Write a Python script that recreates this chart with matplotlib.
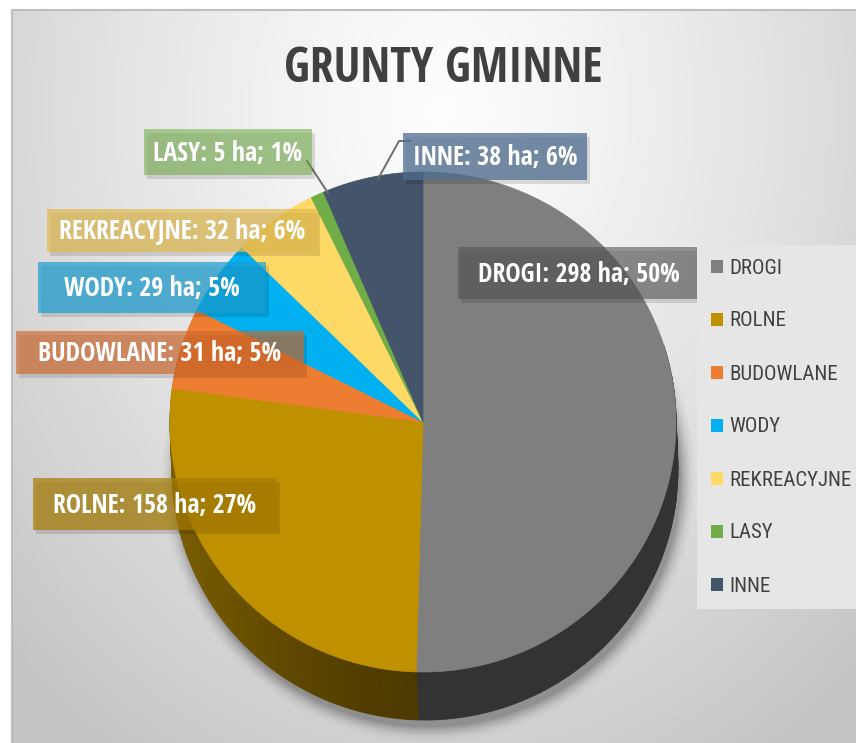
import numpy as np
import matplotlib
matplotlib.use("Agg")
import matplotlib.pyplot as plt
from matplotlib.patches import Polygon, Patch, Rectangle
from matplotlib import font_manager

# data
categories = ["DROGI", "ROLNE", "BUDOWLANE", "WODY", "REKREACYJNE", "LASY", "INNE"]
hectares = [298, 158, 31, 29, 32, 5, 38]
percent_labels = ["50%", "27%", "5%", "5%", "6%", "1%", "6%"]
colors = ["#7F7F7F", "#BF9000", "#ED7D31", "#00B0F0", "#FFD966", "#70AD47", "#44546A"]
box_colors = ["#555555", "#A67C00", "#D0672A", "#1A9FD2", "#E0BA50", "#6FAE45", "#4F6E91"]
box_alpha = [0.6, 0.7, 0.65, 0.7, 0.7, 0.55, 0.75]

# label centres, box padding and height in pixel space (layout only)
label_pos = [(579, 273), (155, 504), (160, 352), (152, 287), (182, 230), (228, 152), (495, 156)]
label_hpad = [20, 20, 22, 26, 12, 9, 10]
label_boxh = [52, 52, 43, 51, 43, 46, 47]

installed = {f.name for f in font_manager.fontManager.ttflist}


def pick(cands, default):
    for c in cands:
        if c in installed:
            return [c, "DejaVu Sans"]
    return [default, "DejaVu Sans"]


FONT = pick(["Open Sans Condensed", "Roboto Condensed", "Liberation Sans Narrow"], "Roboto")
LEG_FONT = pick(["Roboto Condensed", "Asap Condensed", "Liberation Sans Narrow"], "Roboto")

W, H = 856, 743
CX, CY = 423, 422
RX, RY = 253, 250
DX, DY = 2, 48

fig = plt.figure(figsize=(W / 100, H / 100), dpi=100)
ax = fig.add_axes([0, 0, 1, 1])
ax.set_xlim(0, W)
ax.set_ylim(H, 0)
ax.axis("off")
renderer = fig.canvas.get_renderer()


def measure(text, size, weight, family):
    t = ax.text(0, 0, text, fontsize=size, fontweight=weight, family=family)
    bb = t.get_window_extent(renderer=renderer)
    t.remove()
    return bb.width, bb.height


def fit_size(text, target_px, weight, family, base=20):
    return base * target_px / measure(text, base, weight, family)[0]


# chart area background: light radial gradient
gx, gy = np.meshgrid(np.arange(12, W + 1), np.arange(10, H + 1))
d = np.sqrt(((gx - 440) / 560) ** 2 + ((gy - 110) / 700) ** 2)
shade = 0.995 - 0.20 * np.clip(d, 0, 1.1) ** 1.2
bg = np.dstack([shade, shade, shade])
ax.imshow(bg, extent=[12, W + 1, H + 1, 10], zorder=0, interpolation="bilinear")
ax.plot([12, 12, W], [H, 10, 10], color="#BEBEBE", lw=1.5, zorder=1)

# soft shadow under the pie
sx, sy = np.meshgrid(np.arange(120, 740), np.arange(150, H))
sd = np.sqrt(((sx - CX - DX - 3) / (RX + 4)) ** 2 + ((sy - CY - DY - 7) / (RY + 4)) ** 2)
sa = 0.32 * np.clip((1.05 - sd) / 0.07, 0, 1) ** 2
shadow = np.zeros(sa.shape + (4,))
shadow[..., 3] = sa
ax.imshow(shadow, extent=[120, 740, H, 150], zorder=1, interpolation="bilinear")
ax.set_xlim(0, W)
ax.set_ylim(H, 0)


def ell(phi, dx=0.0, dy=0.0):
    return CX + dx + RX * np.sin(phi), CY + dy - RY * np.cos(phi)


total = sum(hectares)
bounds = np.concatenate([[0], np.cumsum(hectares)]) / total * 2 * np.pi

# side of the 3D pie, shaded by angle
for i, c in enumerate(colors):
    rgb = np.array(matplotlib.colors.to_rgb(c))
    a0, a1 = bounds[i], bounds[i + 1]
    n = max(2, int(np.degrees(a1 - a0) / 1.5))
    edges = np.linspace(a0, a1, n + 1)
    for e0, e1 in zip(edges[:-1], edges[1:]):
        mid = 0.5 * (e0 + e1)
        if np.cos(mid) > 0.3:
            continue
        f = 0.40 + 0.25 * max(0.0, -np.sin(mid)) ** 1.5
        t = np.linspace(e0, e1, 4)
        xt, yt = ell(t)
        xb, yb = ell(t[::-1], DX, DY)
        pts = np.column_stack([np.r_[xt, xb], np.r_[yt, yb]])
        ax.add_patch(Polygon(pts, closed=True, facecolor=rgb * f,
                             edgecolor=rgb * f, lw=0.6, zorder=2))

# top faces
for i, c in enumerate(colors):
    t = np.linspace(bounds[i], bounds[i + 1], 200)
    x, y = ell(t)
    pts = np.column_stack([np.r_[CX, x], np.r_[CY, y]])
    ax.add_patch(Polygon(pts, closed=True, facecolor=c, edgecolor=c, lw=0.5, zorder=3))

# leader lines for the two small top slices
ax.plot([307, 328], [161, 193], color="#6E6E6E", lw=1.4, zorder=4)
ax.plot([410, 399, 378], [141, 141, 179], color="#6E6E6E", lw=1.4, zorder=4)

# data labels with boxes sized from the text
label_size = fit_size("BUDOWLANE: 31 ha; 5%", 244, "bold", FONT)
cap_px = 0.714 * label_size * 100 / 72
for i, name in enumerate(categories):
    txt = f"{name}: {hectares[i]} ha; {percent_labels[i]}"
    x, y = label_pos[i]
    tw, _ = measure(txt, label_size, "bold", FONT)
    bw, bh = tw + 2 * label_hpad[i], label_boxh[i]
    ax.add_patch(Rectangle((x - bw / 2 + 3, y - bh / 2 + 4), bw, bh, facecolor="black",
                           edgecolor="none", alpha=0.12, zorder=5))
    ax.add_patch(Rectangle((x - bw / 2, y - bh / 2), bw, bh, facecolor=box_colors[i],
                           edgecolor="none", alpha=box_alpha[i], zorder=5))
    ax.text(x, y + cap_px / 2, txt, ha="center", va="baseline", fontsize=label_size,
            fontweight="bold", color="white", family=FONT, zorder=6)

# title
title_size = fit_size("GRUNTY GMINNE", 318, "bold", FONT)
ax.text(443, 70, "GRUNTY GMINNE", ha="center", va="center", fontsize=title_size,
        fontweight="bold", color="#404040", family=FONT, zorder=6)

# legend
legend_size = fit_size("REKREACYJNE", 122, "normal", LEG_FONT)
fs_px = legend_size * 100 / 72
_, row_h = measure("BUDOWLANE", legend_size, "normal", LEG_FONT)
handles = [Patch(facecolor=c, edgecolor="none") for c in colors]
leg = ax.legend(handles, categories, loc="upper left",
                bbox_to_anchor=(697 / W, 1 - 245 / H), bbox_transform=fig.transFigure,
                frameon=True, fancybox=False, edgecolor="none", facecolor="#E6E6E6",
                framealpha=1, labelspacing=(53 - row_h) / fs_px,
                handlelength=12 / fs_px, handleheight=12 / fs_px,
                handletextpad=7 / fs_px, borderpad=(23 - row_h / 2) / fs_px, borderaxespad=0,
                prop={"family": LEG_FONT, "size": legend_size})
for t in leg.get_texts():
    t.set_color("#404040")
leg.set_zorder(7)

fig.savefig("out.png", dpi=100)
